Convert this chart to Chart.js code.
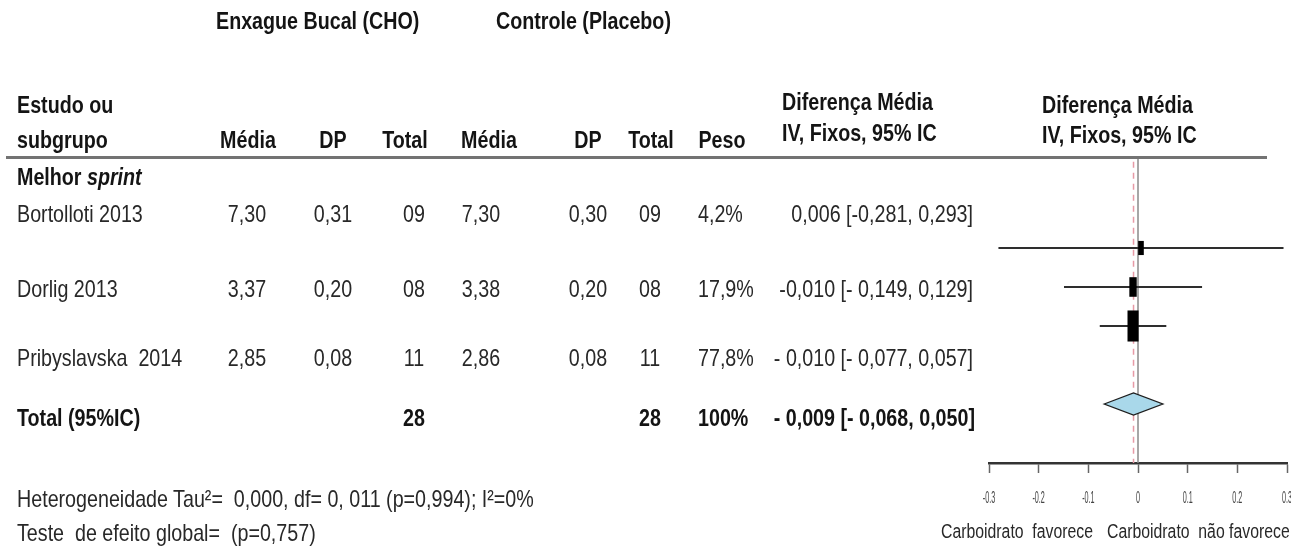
<!DOCTYPE html>
<html>
<head>
<meta charset="utf-8">
<script src="https://cdn.jsdelivr.net/npm/chart.js@4.4.1/dist/chart.umd.min.js"></script>
<style>
  html, body { margin: 0; padding: 0; background: #fff; }
  #wrap { position: relative; width: 1291px; height: 546px; overflow: hidden; }
  #forest { position: absolute; left: 0; top: 0; }
  .t { position: absolute; white-space: pre; font-family: "Liberation Sans", Arial, sans-serif; color: #282828; }
  .b { font-weight: bold; color: #141414; }
  #rule { position: absolute; left: 6px; top: 156px; width: 1261px; height: 3px; background: #737373; }
</style>
</head>
<body>
<div id="wrap">
  <canvas id="forest" width="1291" height="546"></canvas>
  <div id="rule"></div>
</div>
<script>
// studies
var studies = ['Bortolloti 2013', 'Dorlig 2013', 'Pribyslavska  2014'];
var choMean = [7.30, 3.37, 2.85];
var choSD = [0.31, 0.20, 0.08];
var choN = [9, 8, 11];
var plaMean = [7.30, 3.38, 2.86];
var plaSD = [0.30, 0.20, 0.08];
var plaN = [9, 8, 11];
var weight = [4.2, 17.9, 77.8];
var md = [0.006, -0.010, -0.010];
var ciLow = [-0.281, -0.149, -0.077];
var ciHigh = [0.293, 0.129, 0.057];

// pooled
var totalMd = -0.009;
var totalLow = -0.068;
var totalHigh = 0.050;
var totalWeight = 100;

var tickLabels = ['-0.3', '-0.2', '-0.1', '0', '0.1', '0.2', '0.3'];

var wrap = document.getElementById('wrap');

// text helpers (Arial metrics squeezed to look like Arial Narrow)
function put(txt, x, base, opt) {
  opt = opt || {};
  var size = opt.size || 24;
  var sx = opt.sx || 0.82;
  var el = document.createElement('div');
  el.className = 't' + (opt.bold ? ' b' : '');
  el.style.fontSize = size + 'px';
  el.style.lineHeight = size + 'px';
  if (opt.html) el.innerHTML = txt; else el.textContent = txt;
  el.style.top = (base - size * 0.846) + 'px';
  el.style.left = x + 'px';
  var a = opt.align || 'left';
  if (a === 'left') {
    el.style.transformOrigin = '0 0';
    el.style.transform = 'scaleX(' + sx + ')';
  } else if (a === 'center') {
    el.style.transformOrigin = '50% 0';
    el.style.transform = 'translateX(-50%) scaleX(' + sx + ')';
  } else {
    el.style.transformOrigin = '100% 0';
    el.style.transform = 'translateX(-100%) scaleX(' + sx + ')';
  }
  wrap.appendChild(el);
}

function dec(v, n) {
  return v.toFixed(n).replace('.', ',');
}
function sgn(v, n, gap) {
  return (v < 0 ? (gap ? '- ' : '-') : '') + dec(Math.abs(v), n);
}
function pad(n) {
  return (n < 10 ? '0' : '') + n;
}

// headers
put('Enxague Bucal (CHO)', 216, 29, {bold: true});
put('Controle (Placebo)', 496, 29, {bold: true});
put('Estudo ou', 17, 113, {bold: true});
put('subgrupo', 17, 148, {bold: true});
var headCols = [['Média', 248], ['DP', 333], ['Total', 405], ['Média', 489], ['DP', 588], ['Total', 651], ['Peso', 722]];
headCols.forEach(function (h) {
  put(h[0], h[1], 148, {bold: true, align: 'center'});
});
put('Diferença Média', 782, 110, {bold: true});
put('IV, Fixos, 95% IC', 782, 141, {bold: true});
put('Diferença Média', 1042, 113, {bold: true});
put('IV, Fixos, 95% IC', 1042, 143, {bold: true});

put('Melhor <i>sprint</i>', 17, 185, {bold: true, html: true});

// study rows
var rowBase = [222, 297, 366];
studies.forEach(function (s, i) {
  var y = rowBase[i];
  put(s, 17, y);
  put(dec(choMean[i], 2), 247, y, {align: 'center'});
  put(dec(choSD[i], 2), 333, y, {align: 'center'});
  put(pad(choN[i]), 414, y, {align: 'center'});
  put(dec(plaMean[i], 2), 481, y, {align: 'center'});
  put(dec(plaSD[i], 2), 588, y, {align: 'center'});
  put(pad(plaN[i]), 650, y, {align: 'center'});
  put(dec(weight[i], 1) + '%', 698, y);
  var gap = i > 0;
  put(sgn(md[i], 3, i > 1) + ' [' + sgn(ciLow[i], 3, gap) + ', ' + sgn(ciHigh[i], 3, gap) + ']', 973, y, {align: 'right'});
});

var nCho = choN.reduce(function (a, b) { return a + b; }, 0);
var nPla = plaN.reduce(function (a, b) { return a + b; }, 0);
put('Total (95%IC)', 17, 426, {bold: true});
put(String(nCho), 414, 426, {bold: true, align: 'center'});
put(String(nPla), 650, 426, {bold: true, align: 'center'});
put(totalWeight + '%', 698, 426, {bold: true});
put(sgn(totalMd, 3, true) + ' [' + sgn(totalLow, 3, true) + ', ' + sgn(totalHigh, 3, true) + ']', 975, 426, {bold: true, align: 'right'});

put('Heterogeneidade Tau²=  0,000, df= 0, 011 (p=0,994); I²=0%', 17, 507);
put('Teste  de efeito global=  (p=0,757)', 17, 541);

put('Carboidrato  favorece', 941, 538, {size: 20, sx: 0.79});
put('Carboidrato  não favorece', 1107, 538, {size: 20, sx: 0.79});

// forest plot
var lineSets = studies.map(function (s, i) {
  return {
    type: 'scatter',
    label: s,
    data: [{x: ciLow[i], y: i}, {x: ciHigh[i], y: i}],
    showLine: true,
    borderColor: '#2e2e2e',
    borderWidth: 2,
    pointRadius: 0,
    order: 5
  };
});
var totalRow = studies.length + 1;

var yMin = -2.333, yMax = 5.513;

var refLines = [
  {
    type: 'scatter',
    label: 'zero',
    data: [{x: 0, y: yMin}, {x: 0, y: yMax}],
    showLine: true,
    borderColor: '#8a8a8a',
    borderWidth: 1.5,
    pointRadius: 0,
    order: 10
  },
  {
    type: 'scatter',
    label: 'pooled',
    data: [{x: totalMd, y: yMin + 0.12}, {x: totalMd, y: yMax}],
    showLine: true,
    borderColor: '#e79aa6',
    borderWidth: 1.5,
    borderDash: [6, 5],
    pointRadius: 0,
    order: 9
  }
];

var markers = {
  id: 'markers',
  afterDatasetsDraw: function (chart) {
    var ctx = chart.ctx, xs = chart.scales.x, ys = chart.scales.y;
    ctx.save();
    // weighted boxes
    md.forEach(function (m, i) {
      var f = Math.sqrt(weight[i] / 100);
      var h = 9 + 25 * f, w = 4 + 8 * f;
      var cx = xs.getPixelForValue(m), cy = ys.getPixelForValue(i);
      ctx.fillStyle = '#000';
      ctx.fillRect(cx - w / 2, cy - h / 2, w, h);
    });
    // pooled diamond
    var cy = ys.getPixelForValue(totalRow);
    var l = xs.getPixelForValue(totalLow), r = xs.getPixelForValue(totalHigh), c = xs.getPixelForValue(totalMd);
    ctx.beginPath();
    ctx.moveTo(l, cy);
    ctx.lineTo(c, cy - 11);
    ctx.lineTo(r, cy);
    ctx.lineTo(c, cy + 11);
    ctx.closePath();
    ctx.fillStyle = '#a9d8ea';
    ctx.fill();
    ctx.lineWidth = 1.3;
    ctx.strokeStyle = '#1e1e1e';
    ctx.stroke();
    ctx.restore();
  },
  afterDraw: function (chart) {
    // narrow tick labels under the axis
    var ctx = chart.ctx, xs = chart.scales.x;
    ctx.save();
    ctx.fillStyle = '#444';
    ctx.font = '16px "Liberation Sans", Arial, sans-serif';
    ctx.textAlign = 'center';
    ctx.textBaseline = 'middle';
    xs.ticks.forEach(function (t, i) {
      var px = xs.getPixelForValue(t.value);
      ctx.save();
      ctx.translate(px, chart.chartArea.bottom + 36);
      ctx.scale(0.45, 1);
      ctx.fillText(tickLabels[i], 0, 0);
      ctx.restore();
    });
    ctx.restore();
  }
};

new Chart(document.getElementById('forest'), {
  type: 'scatter',
  data: { datasets: refLines.concat(lineSets) },
  options: {
    responsive: false,
    animation: false,
    events: [],
    layout: { padding: { left: 989, right: 4, top: 157, bottom: 73 } },
    plugins: { legend: { display: false }, tooltip: { enabled: false } },
    scales: {
      x: {
        type: 'linear',
        min: -0.3,
        max: 0.3,
        ticks: { stepSize: 0.1, display: false },
        grid: { drawOnChartArea: false, drawTicks: true, tickLength: 10, tickColor: '#666', tickWidth: 1.5 },
        border: { color: '#333', width: 2.5 }
      },
      y: {
        type: 'linear',
        display: false,
        reverse: true,
        min: yMin,
        max: yMax
      }
    }
  },
  plugins: [markers]
});
</script>
</body>
</html>
